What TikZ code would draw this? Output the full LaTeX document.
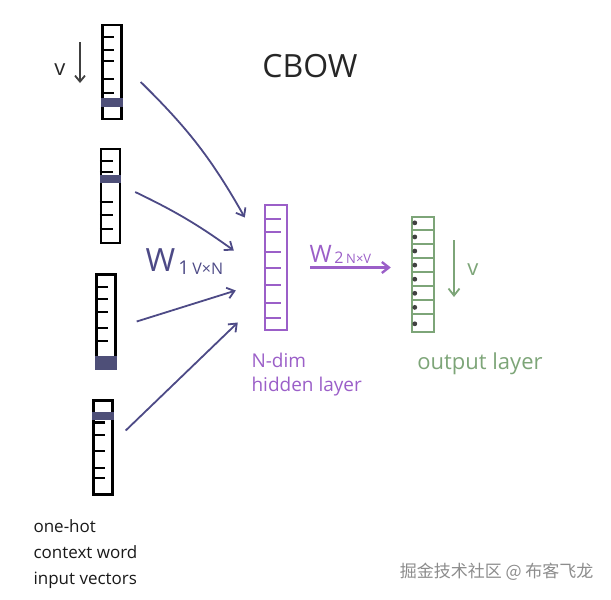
\documentclass[tikz,border=0pt]{standalone}
\usepackage{fontspec}
\setmainfont{Open Sans}
\newfontfamily\cjkfont{Noto Sans CJK SC}
\usetikzlibrary{arrows.meta,calc}

\definecolor{inkblue}{HTML}{4D4A86}
\definecolor{cellfill}{HTML}{4E4F78}
\definecolor{hidpurple}{HTML}{9B5FC8}
\definecolor{outgreen}{HTML}{7DA578}

\begin{document}
\begin{tikzpicture}[x=1pt,y=-1pt,
  vecbox/.style={draw,line width=2.4pt,minimum width=19pt,minimum height=94pt,inner sep=0pt},
  tickline/.style={line width=2.2pt},
  inarrow/.style={inkblue,line width=1.8pt,-{Straight Barb[length=7pt,width=11pt]}},
  handtext/.style={font=\fontsize{19}{24}\selectfont,align=left}]
  \useasboundingbox (0,0) rectangle (611,600);

  % one-hot input vectors
  \node[vecbox] (in1) at (112,72) {};
  \node[vecbox] (in2) at (110.5,196) {};
  \node[vecbox] (in3) at (106,321.5) {};
  \node[vecbox] (in4) at (103,447.5) {};
  \fill[cellfill] ($(in1.north west)!0.77!(in1.south west)$) rectangle ($(in1.north east)!0.86!(in1.south east)$);
  \fill[cellfill] ($(in2.north west)!0.28!(in2.south west)$) rectangle ($(in2.north east)!0.36!(in2.south east)$);
  \fill[cellfill] ($(in3.north west)!0.86!(in3.south west)$) rectangle (in3.south east);
  \fill[cellfill] ($(in4.north west)!0.13!(in4.south west)$) rectangle ($(in4.north east)!0.21!(in4.south east)$);
  \foreach \f in {0.14,0.27,0.39,0.57,0.72}
    \draw[tickline] ($(in1.north west)!\f!(in1.south west)$) -- ++(13,0);
  \foreach \f in {0.14,0.25,0.56,0.70,0.84}
    \draw[tickline] ($(in2.north west)!\f!(in2.south west)$) -- ++(13,0);
  \foreach \f in {0.14,0.27,0.40,0.57,0.70}
    \draw[tickline] ($(in3.north west)!\f!(in3.south west)$) -- ++(13,0);
  \foreach \f in {0.24,0.37,0.54,0.71,0.82}
    \draw[tickline] ($(in4.north west)!\f!(in4.south west)$) -- ++(13,0);

  % hidden layer
  \node[vecbox,hidpurple,minimum width=22pt,minimum height=125pt] (hid) at (276,267.5) {};
  \foreach \f in {0.12,0.22,0.38,0.50,0.64,0.78,0.90}
    \draw[hidpurple,line width=2pt] ($(hid.north west)!\f!(hid.south west)$) -- ++(17,0);

  % output layer
  \node[vecbox,outgreen,minimum width=22pt,minimum height=115pt] (out) at (423,274.5) {};
  \foreach \f in {0.12,0.24,0.36,0.48,0.60,0.72,0.84}
    \draw[outgreen,line width=2pt] ($(out.north west)!\f!(out.south west)$) -- ++(22,0);
  \foreach \f in {0.06,0.18,0.30,0.42,0.54,0.66,0.78,0.92}
    \fill[black!75] ($(out.north west)!\f!(out.south west)+(4,0)$) circle (2.4pt);

  % connections
  \draw[inarrow] ([shift={(18,10)}]in1.east) to[bend left=8] ([shift={(-19,-50)}]hid.west);
  \draw[inarrow] ([shift={(14,-4)}]in2.east) to[bend left=5] ([shift={(-30,-17)}]hid.west);
  \draw[inarrow] ([shift={(20,0)}]in3.east) -- ([shift={(-28,23)}]hid.west);
  \draw[inarrow] ([shift={(12,-17)}]in4.east) -- ([shift={(-26,55)}]hid.west);
  \draw[hidpurple,line width=2.4pt,-{Straight Barb[length=7pt,width=11pt]}]
    ([xshift=22pt]hid.east) -- ([xshift=-20pt]hid.east -| out.west);

  % labels
  \node[text=black!85,font=\fontsize{32}{32}\selectfont] (title) at (310,66) {CBOW};
  \node[text=inkblue,anchor=west] (wone) at (142,262)
    {\fontsize{32}{32}\selectfont W\raisebox{-3pt}{\fontsize{19}{19}\selectfont\,1\,\fontsize{16}{16}\selectfont V×N}};
  \node[text=hidpurple,anchor=west] (wtwo) at (306,254)
    {\fontsize{24}{24}\selectfont W\raisebox{-1pt}{\fontsize{16}{16}\selectfont\,2\,\fontsize{13}{13}\selectfont N×V}};
  \node[text=black!85,font=\fontsize{22}{22}\selectfont] (vin) at (60,70) {v};
  \coordinate (vintop) at (80,42);
  \coordinate (vinbot) at (80,83);
  \draw[black!75,line width=1.8pt,-{Straight Barb[length=6pt,width=10pt]}] (vintop) -- (vinbot);
  \node[text=outgreen,font=\fontsize{22}{22}\selectfont] (vout) at (473,270) {v};
  \coordinate (vouttop) at (454,240);
  \coordinate (voutbot) at (454,297);
  \draw[outgreen,line width=1.8pt,-{Straight Barb[length=7pt,width=11pt]}] (vouttop) -- (voutbot);
  \node[handtext,text=hidpurple,anchor=west] (hidlabel) at (248,375) {N-dim\\hidden layer};
  \node[handtext,text=outgreen,font=\fontsize{22}{24}\selectfont] (outlabel) at (480,364) {output layer};
  \node[handtext,text=black!90,anchor=west,font=\fontsize{17}{26}\selectfont] (inlabel) at (30,554)
    {one-hot\\context word\\input vectors};
  \node[text=black!45,anchor=east,font=\fontsize{17}{17}\selectfont] (mark) at (597,572)
    {\cjkfont 掘金技术社区 @ 布客飞龙};
\end{tikzpicture}
\end{document}
